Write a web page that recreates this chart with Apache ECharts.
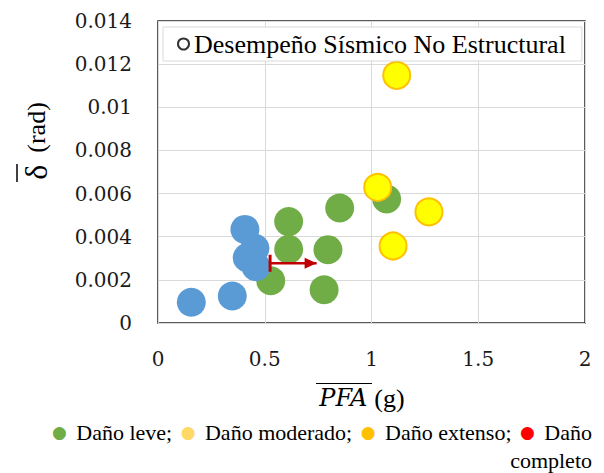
<!DOCTYPE html>
<html><head><meta charset="utf-8">
<script src="https://cdn.jsdelivr.net/npm/echarts@6/dist/echarts.min.js"></script>
<style>html,body{margin:0;padding:0;background:#fff}#c{width:604px;height:473px}</style>
</head><body><div id="c"></div>
<script>
// ---- data ----
const xTickLabels = ['0', '0.5', '1', '1.5', '2'];
const yTickLabels = ['0', '0.002', '0.004', '0.006', '0.008', '0.01', '0.012', '0.014'];
const greenX = [0.612, 0.612, 0.851, 0.796, 0.778, 0.528, 1.071];
const greenY = [0.0047, 0.00342, 0.00533, 0.0034, 0.00154, 0.00196, 0.00575];
const yellowX = [1.118, 1.029, 1.269, 1.101];
const yellowY = [0.01148, 0.00629, 0.00515, 0.00357];
const blueX = [0.156, 0.348, 0.407, 0.454, 0.418, 0.459];
const blueY = [0.00096, 0.00125, 0.00434, 0.00346, 0.00303, 0.00261];
const arrowX = [0.525, 0.743];
const arrowY = [0.00277, 0.00277];
const legendName = 'Desempeño Sísmico No Estructural';
const damageNames = ['Daño leve;', 'Daño moderado;', 'Daño extenso;', 'Daño\ncompleto'];
const damageColors = ['#70AD47', '#FFD966', '#FFC000', '#FF0000'];

const zip = (xs, ys) => xs.map((x, i) => [x, ys[i]]);
const serif = 'Liberation Serif';
const tickFont = 'DejaVu Serif';

const chart = echarts.init(document.getElementById('c'), null, {renderer: 'svg'});
const keys = ['g', 'ly', 'o', 'r'];
const rich = {};
keys.forEach((k, i) => {
  rich[k] = {color: damageColors[i], fontFamily: 'DejaVu Sans', fontSize: 17, lineHeight: 28, padding: [0, 4, 0, i === 0 ? 0 : 3]};
});
const bottomText = damageNames.map((n, i) => '{' + keys[i] + '|●} ' + n).join(' ');

chart.setOption({
  animation: false,
  grid: {left: 158, right: 19, top: 21, bottom: 150, show: true, borderColor: '#262626', borderWidth: 1.5, containLabel: false},
  xAxis: {
    type: 'value', min: 0, max: 2, interval: 0.5,
    axisLine: {show: false}, axisTick: {show: false},
    splitLine: {lineStyle: {color: '#d9d9d9', width: 1}},
    axisLabel: {margin: 26, color: '#1a1a1a', fontFamily: tickFont, fontSize: 20,
      formatter: v => xTickLabels[Math.round(v / 0.5)]}
  },
  yAxis: {
    type: 'value', min: 0, max: 0.014, interval: 0.002,
    axisLine: {show: false}, axisTick: {show: false},
    splitLine: {lineStyle: {color: '#d9d9d9', width: 1}},
    axisLabel: {margin: 26, color: '#1a1a1a', fontFamily: tickFont, fontSize: 20,
      formatter: v => yTickLabels[Math.round(v / 0.002)]}
  },
  legend: {
    data: [legendName], left: 163, top: 27, icon: 'circle', itemWidth: 11, itemHeight: 11,
    padding: [4, 16, 4, 14], borderColor: '#d9d9d9', borderWidth: 1, backgroundColor: '#fff',
    textStyle: {fontFamily: serif, fontSize: 26, color: '#000', lineHeight: 26}
  },
  title: {
    text: bottomText, left: 592, top: 418, textAlign: 'right', padding: 0,
    textStyle: {fontFamily: serif, fontSize: 22, fontWeight: 'normal', color: '#000', lineHeight: 28, rich: rich}
  },
  graphic: [
    {type: 'text', x: 36, y: 141, rotation: Math.PI / 2,
      style: {text: '{d|δ}{r|(rad)}', align: 'center', verticalAlign: 'middle',
        rich: {d: {fontFamily: serif, fontSize: 32, fill: '#000', padding: [0, 12, 0, 0]},
               r: {fontFamily: serif, fontSize: 26, fill: '#000'}}}},
    {type: 'line', shape: {x1: 17, y1: 164, x2: 17, y2: 182}, style: {stroke: '#000', lineWidth: 1.5}},
    {type: 'text', x: 362, y: 398,
      style: {text: '{p|PFA}{g|(g)}', align: 'center', verticalAlign: 'middle',
        rich: {p: {fontFamily: tickFont, fontStyle: 'italic', fontSize: 24, fill: '#000', padding: [0, 7, 0, 0]},
               g: {fontFamily: serif, fontSize: 26, fill: '#000'}}}},
    {type: 'line', shape: {x1: 316, y1: 383.5, x2: 372, y2: 383.5}, style: {stroke: '#000', lineWidth: 1.2}}
  ],
  series: [
    {name: legendName, type: 'scatter', data: [], itemStyle: {color: '#fff', borderColor: '#000', borderWidth: 1}},
    {name: 'leve', type: 'scatter', symbolSize: 29, data: zip(greenX, greenY), itemStyle: {color: '#70AD47', opacity: 1}},
    {name: 'moderado', type: 'scatter', symbolSize: 27, data: zip(yellowX, yellowY), itemStyle: {color: '#FFFF00', borderColor: '#FFC000', borderWidth: 2, opacity: 1}},
    {name: 'nulo', type: 'scatter', symbolSize: 29, data: zip(blueX, blueY), itemStyle: {color: '#5B9BD5', opacity: 1}},
    {name: 'flecha', type: 'line', z: 5, silent: true,
      data: [
        {value: [arrowX[0], arrowY[0]], symbol: 'rect', symbolSize: [3, 17]},
        {value: [arrowX[1], arrowY[1]], symbol: 'triangle', symbolRotate: -90, symbolSize: [11, 12], symbolOffset: [-6, 0]}
      ],
      lineStyle: {color: '#C00000', width: 2.5}, itemStyle: {color: '#C00000'}, showSymbol: true}
  ]
});
</script></body></html>
